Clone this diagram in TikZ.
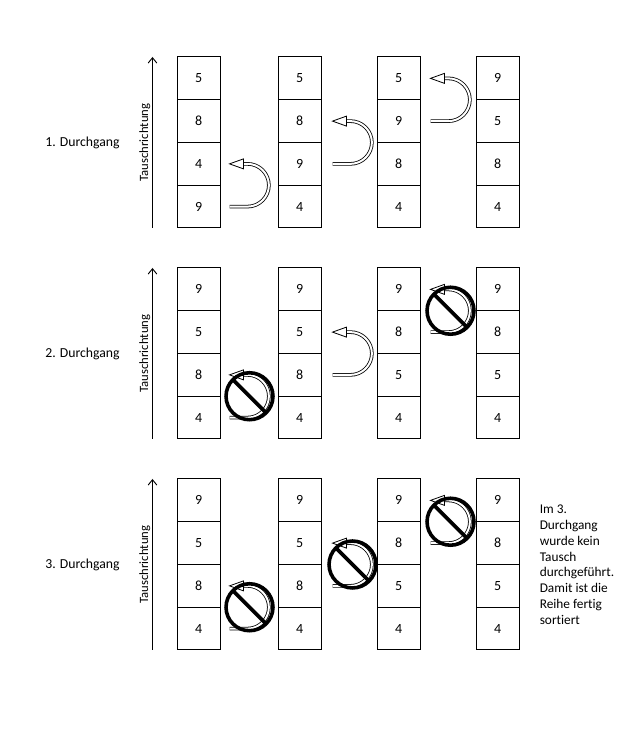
\documentclass[tikz,border=0pt]{standalone}
\usepackage{fontspec}
\setmainfont[Ligatures={NoCommon}]{Carlito}
\usetikzlibrary{arrows.meta,calc}
\tikzset{
  cell/.style={draw, line width=0.75pt, minimum width=31.875pt, minimum height=32.06pt, inner sep=0pt, font=\fontsize{10.5}{12}\selectfont},
  dirarrow/.style={line width=0.7pt, -{Straight Barb[length=4pt,width=6.5pt,line width=0.7pt]}},
  dirlabel/.style={rotate=90, anchor=south, inner sep=0pt, font=\fontsize{9.5}{11}\selectfont},
  passlabel/.style={inner sep=0pt, font=\fontsize{10.3}{12}\selectfont},
  dbl/.style={line width=0.6pt, double=white, double distance=1.5pt},
  ahead/.style={line width=0.6pt, fill=white, line join=miter},
  nosign/.style={line width=2.7pt},
}
\newcommand\colm[7]{%
  \foreach \v [count=\r] in {#4,#5,#6,#7} {
    \node[cell] (#1r\r) at ({#2+21.25},{756-#3-42.75*(\r-0.5)}) {\v};
  }}
\newcommand\uturn[3]{%
  \coordinate (ua) at ($(#1.east)+(#3,0)$);
  \coordinate (ub) at ($(#2.east)+(#3,0)$);
  \draw[dbl] (ua) -- ++(18,0) arc[start angle=-90,end angle=90,radius=16.03pt] -- ++(-4,0);
  \draw[ahead] (ub) -- ++(14,5) -- ++(0,-10) -- cycle;
}
\newcommand\nosym[3]{%
  \uturn{#1}{#2}{#3}
  \coordinate (nc) at ($(ua)!0.5!(ub)+(20,0)$);
  \draw[nosign] (nc) circle[radius=17.6pt];
  \draw[nosign] ($(nc)+(135:17.6pt)$) -- ($(nc)+(-45:17.6pt)$);
}
\begin{document}
\begin{tikzpicture}[x=0.75pt,y=0.75pt]
\useasboundingbox (0,0) rectangle (643,756);

% ---------- group 1
\colm{g1c1}{177.5}{57}{5}{8}{4}{9}
\colm{g1c2}{278.5}{57}{5}{8}{9}{4}
\colm{g1c3}{377.5}{57}{5}{9}{8}{4}
\colm{g1c4}{476.5}{57}{9}{5}{8}{4}
% ---------- group 2
\colm{g2c1}{177.5}{268}{9}{5}{8}{4}
\colm{g2c2}{278.5}{268}{9}{5}{8}{4}
\colm{g2c3}{377.5}{268}{9}{8}{5}{4}
\colm{g2c4}{476.5}{268}{9}{8}{5}{4}
% ---------- group 3
\colm{g3c1}{177.5}{479}{9}{5}{8}{4}
\colm{g3c2}{278.5}{479}{9}{5}{8}{4}
\colm{g3c3}{377.5}{479}{9}{8}{5}{4}
\colm{g3c4}{476.5}{479}{9}{8}{5}{4}

% direction arrows and labels
\foreach \g/\t in {1/57,2/268,3/479} {
  \coordinate (d\g b) at (152.5,{756-\t-171});
  \coordinate (d\g t) at (152.5,{756-\t});
  \draw[dirarrow] (d\g b) -- (d\g t);
  \node[dirlabel] (dl\g) at (150.5,{756-\t-85.5}) {Tauschrichtung};
  \node[passlabel] (pl\g) at (82.5,{756-\t-85.5}) {\g. Durchgang};
}

% swaps, pass 1
\uturn{g1c1r4}{g1c1r3}{9}
\uturn{g1c2r3}{g1c2r2}{11}
\uturn{g1c3r2}{g1c3r1}{10}
% pass 2
\nosym{g2c1r4}{g2c1r3}{9}
\uturn{g2c2r3}{g2c2r2}{11}
\nosym{g2c3r2}{g2c3r1}{10}
% pass 3
\nosym{g3c1r4}{g3c1r3}{9}
\nosym{g3c2r3}{g3c2r2}{11}
\nosym{g3c3r2}{g3c3r1}{10}

\node[anchor=north west, inner sep=0pt, align=left, font=\fontsize{10}{11.9}\selectfont] (note) at (539.5,{756-504.5})
 {Im 3.\\Durchgang\\wurde kein\\Tausch\\durchgeführt.\\Damit ist die\\Reihe fertig\\sortiert};
\end{tikzpicture}
\end{document}
